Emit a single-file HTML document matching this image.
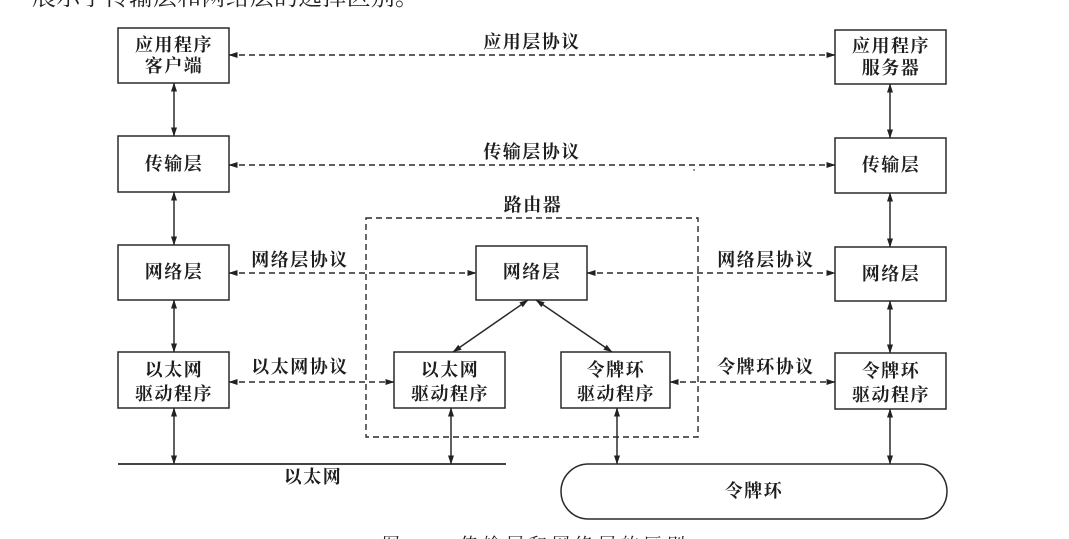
<!DOCTYPE html>
<html>
<head>
<meta charset="utf-8">
<style>
  html,body{margin:0;padding:0;background:#fff;}
  body{width:1069px;height:539px;overflow:hidden;position:relative;}
  svg{position:absolute;left:0;top:0;}
  .t{font-family:"Liberation Serif","Noto Serif CJK SC","Noto Sans CJK SC",serif;font-weight:700;font-size:18px;fill:#1e1e1e;letter-spacing:1.5px;}
  .p{font-family:"Liberation Serif","Noto Serif CJK SC",serif;font-weight:400;fill:#222;}
</style>
</head>
<body>
<svg width="1069" height="539" viewBox="0 0 1069 539" xmlns="http://www.w3.org/2000/svg">
  <defs>
    <marker id="ah" markerWidth="9" markerHeight="7" refX="8.5" refY="3.5" orient="auto-start-reverse" markerUnits="userSpaceOnUse">
      <path d="M0,0.5 L9,3.5 L0,6.5 z" fill="#222"/>
    </marker>
  </defs>

  <!-- partial top text -->
  <text class="p" x="32" y="5" font-size="24" letter-spacing="0.2">展示了传输层和网络层的选择区别。</text>
  <!-- partial caption -->
  <text class="p" x="382" y="551" font-size="18">图</text>
  <text class="p" x="460" y="551" font-size="18" letter-spacing="5">传输层和网络层的区别</text>

  <g fill="#fff" stroke="#2a2a2a" stroke-width="1.5">
    <!-- left column -->
    <rect x="118" y="28" width="111" height="55"/>
    <rect x="118" y="136" width="111" height="56"/>
    <rect x="118" y="245" width="111" height="55"/>
    <rect x="118" y="352" width="111" height="56"/>
    <!-- right column -->
    <rect x="835" y="30" width="111" height="54"/>
    <rect x="835" y="138" width="111" height="55"/>
    <rect x="835" y="247" width="111" height="54"/>
    <rect x="835" y="353" width="111" height="56"/>
    <!-- router -->
    <rect x="476" y="246" width="111" height="54"/>
    <rect x="394" y="352" width="111" height="56"/>
    <rect x="561" y="352" width="109" height="56"/>
    <!-- token ring -->
    <rect x="561" y="464" width="386" height="55" rx="27.5" ry="27.5"/>
  </g>

  <!-- router dashed boundary -->
  <rect x="366" y="218" width="332" height="219" fill="none" stroke="#2a2a2a" stroke-width="1.4" stroke-dasharray="6,4"/>

  <!-- ethernet line -->
  <line x1="118" y1="464" x2="506" y2="464" stroke="#2a2a2a" stroke-width="1.7"/>

  <!-- dashed protocol arrows -->
  <g stroke="#2a2a2a" stroke-width="1.4" stroke-dasharray="6,4" fill="none" marker-start="url(#ah)" marker-end="url(#ah)">
    <line x1="229" y1="55" x2="835" y2="55"/>
    <line x1="229" y1="165" x2="835" y2="165"/>
    <line x1="229" y1="273" x2="476" y2="273"/>
    <line x1="587" y1="273" x2="835" y2="273"/>
    <line x1="229" y1="382" x2="394" y2="382"/>
    <line x1="670" y1="382" x2="835" y2="382"/>
  </g>

  <!-- solid double arrows -->
  <g stroke="#2a2a2a" stroke-width="1.5" fill="none" marker-start="url(#ah)" marker-end="url(#ah)">
    <line x1="174" y1="83" x2="174" y2="136"/>
    <line x1="174" y1="192" x2="174" y2="245"/>
    <line x1="174" y1="300" x2="174" y2="352"/>
    <line x1="174" y1="408" x2="174" y2="464"/>
    <line x1="890" y1="84" x2="890" y2="138"/>
    <line x1="890" y1="193" x2="890" y2="247"/>
    <line x1="890" y1="301" x2="890" y2="353"/>
    <line x1="890" y1="409" x2="890" y2="464"/>
    <line x1="451" y1="408" x2="451" y2="464"/>
    <line x1="617" y1="408" x2="617" y2="464"/>
    <line x1="528" y1="300" x2="453" y2="352"/>
    <line x1="536" y1="300" x2="612" y2="352"/>
  </g>

  <!-- box labels -->
  <g class="t" text-anchor="middle" dominant-baseline="central">
    <text x="174" y="45">应用程序</text>
    <text x="174" y="66">客户端</text>
    <text x="174" y="164">传输层</text>
    <text x="174" y="272">网络层</text>
    <text x="174" y="370">以太网</text>
    <text x="174" y="394">驱动程序</text>

    <text x="891" y="46">应用程序</text>
    <text x="891" y="68">服务器</text>
    <text x="891" y="165">传输层</text>
    <text x="891" y="274">网络层</text>
    <text x="891" y="371">令牌环</text>
    <text x="891" y="395">驱动程序</text>

    <text x="532" y="272">网络层</text>
    <text x="450" y="370">以太网</text>
    <text x="450" y="394">驱动程序</text>
    <text x="616" y="370">令牌环</text>
    <text x="616" y="394">驱动程序</text>

    <text x="754" y="491">令牌环</text>
    <text x="313" y="477">以太网</text>
    <text x="533" y="205">路由器</text>

    <text x="532" y="42">应用层协议</text>
    <text x="532" y="152">传输层协议</text>
    <text x="300" y="260">网络层协议</text>
    <text x="300" y="367">以太网协议</text>
    <text x="766" y="260">网络层协议</text>
    <text x="766" y="367">令牌环协议</text>
  </g>
  <circle cx="694" cy="170" r="0.9" fill="#555"/>
</svg>
</body>
</html>
